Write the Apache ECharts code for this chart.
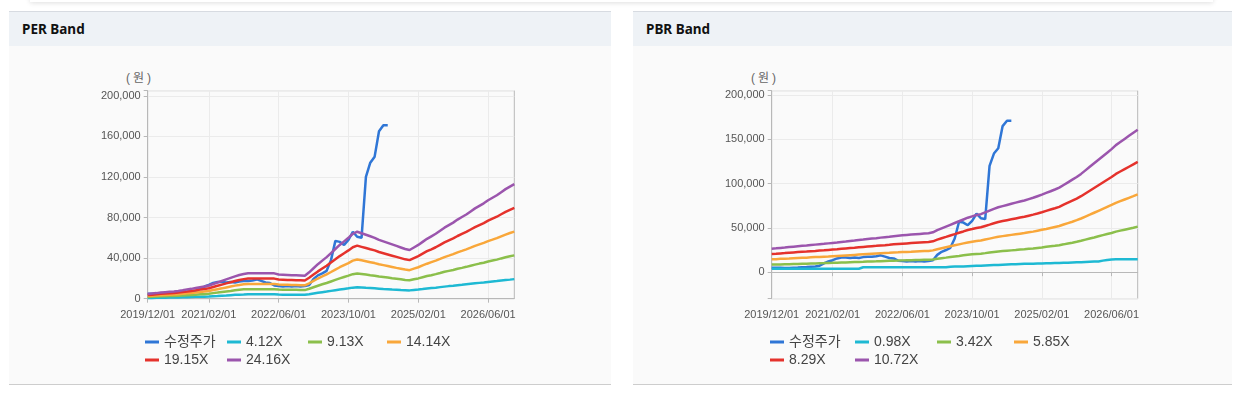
<!DOCTYPE html>
<html>
<head>
<meta charset="utf-8">
<script src="https://cdn.jsdelivr.net/npm/echarts@6/dist/echarts.min.js"></script>
<style>
  html, body { margin: 0; padding: 0; background: #ffffff; }
  body { width: 1243px; height: 394px; position: relative; overflow: hidden; font-family: "Noto Sans", "Noto Sans CJK KR", sans-serif; }
  .topshade { position: absolute; left: 30px; width: 1183px; top: -12px; height: 14px; background: #fff; box-shadow: 0 1px 5px rgba(0,0,0,0.13); }
  .panel { position: absolute; top: 11px; height: 372px; background: #fafafa; border-top: 1px solid #d7dbe1; border-bottom: 1px solid #cdcdcd; }
  .panel .hd { height: 34px; line-height: 34px; background: #eef2f6; padding-left: 13px; font-weight: bold; font-size: 13.5px; color: #111; }
  .unit { position: absolute; top: 68px; font-family: "Liberation Sans", "Noto Sans CJK KR", sans-serif; font-size: 12px; color: #666; letter-spacing: 3px; }
  #chart { position: absolute; left: 0; top: 0; width: 1243px; height: 394px; }
</style>
</head>
<body>
<div class="topshade"></div>
<div class="panel" style="left:9px; width:602px;"><div class="hd">PER Band</div></div>
<div class="panel" style="left:633px; width:599px;"><div class="hd">PBR Band</div></div>
<div class="unit" style="left:126px;">(원)</div>
<div class="unit" style="left:751px;">(원)</div>
<div id="chart"></div>
<script>
// ---- categories & tick labels ----
const categories = [];
for (let i = 0; i <= 84; i++) {
  const t = 2019 * 12 + 11 + i;
  const y = Math.floor(t / 12), m = (t % 12) + 1;
  categories.push(y + '/' + String(m).padStart(2, '0') + '/01');
}
const xTickLabels = ['2019/12/01', '2021/02/01', '2022/06/01', '2023/10/01', '2025/02/01', '2026/06/01'];

// ---- 수정주가 (adjusted price), monthly from 2019/12 ----
const adjPrice = [5000,5000,5000,4800,4700,5000,5200,5600,5800,6200,6500,7300,
  10000,12000,13500,15500,16500,16500,16000,16500,16000,17000,17500,17500,
  18000,19000,17500,16000,15500,13000,12500,12000,12500,12000,12500,12000,
  12500,13500,19500,23000,25000,27500,38000,57000,56000,53000,58000,66000,
  61000,60000,120000,134000,140000,165000,171000,171000];

// ---- PER band ----
const perNames = ['4.12X', '9.13X', '14.14X', '19.15X', '24.16X'];
const per412 = [700,800,900,900,1000,1100,1200,1300,1400,1500,1700,1800,
  1900,2000,2200,2500,2700,3000,3200,3500,3800,4000,4100,4300,
  4300,4300,4300,4300,4300,4300,4100,4000,4000,4000,3900,3900,
  3900,4400,5100,5800,6400,7000,7700,8400,9000,9600,10200,10900,
  11300,11000,10700,10500,10200,9900,9600,9400,9100,8900,8600,8400,
  8200,8600,9000,9500,10100,10500,10900,11400,11900,12400,12800,13300,
  13700,14200,14700,15200,15600,16000,16500,17000,17400,17900,18400,18800,
  19300];
const per913 = [1700,1900,2100,2300,2400,2600,2700,2900,3100,3400,3700,4000,
  4300,4500,4900,5500,6000,6600,7200,7700,8300,8800,9200,9400,
  9400,9400,9400,9400,9400,9400,9000,8900,8800,8800,8700,8600,
  8500,9800,11300,12800,14200,15500,17000,18500,20000,21400,22700,24200,
  24900,24400,23800,23200,22700,21900,21400,20800,20200,19700,19100,18500,
  18100,19100,20000,21200,22300,23200,24200,25300,26500,27400,28300,29500,
  30400,31400,32500,33600,34600,35500,36700,37600,38500,39700,40800,41800,
  42700];
const per1414 = [2700,3000,3200,3500,3700,4000,4200,4500,4900,5300,5700,6100,
  6600,7000,7600,8500,9400,10200,11100,12000,12900,13600,14200,14600,
  14600,14600,14600,14600,14600,14600,13900,13800,13700,13600,13500,13300,
  13200,15200,17600,19900,21900,24000,26300,28700,31000,33100,35100,37500,
  38600,37800,36900,36000,35100,33900,33100,32200,31300,30400,29600,28700,
  28100,29600,31000,32800,34500,36000,37500,39200,41000,42400,43900,45700,
  47100,48600,50300,52100,53600,55000,56800,58200,59700,61500,63200,64700,
  66100];
const per1915 = [3600,4000,4400,4800,5100,5400,5700,6100,6600,7100,7700,8300,
  9000,9500,10300,11500,12700,13900,15100,16200,17400,18500,19300,19800,
  19800,19800,19800,19800,19800,19800,18900,18700,18500,18400,18200,18100,
  17900,20600,23800,26900,29700,32500,35700,38800,42000,44800,47600,50700,
  52300,51100,49900,48700,47600,46000,44800,43600,42400,41200,40000,38800,
  38000,40000,42000,44400,46800,48700,50700,53100,55500,57500,59400,61800,
  63800,65800,68200,70500,72500,74500,76900,78900,80800,83200,85600,87600,
  89600];
const per2416 = [4600,5100,5500,6000,6400,6800,7200,7700,8300,9000,9700,10500,
  11300,12000,13000,14500,16000,17500,19000,20500,22000,23300,24300,25000,
  25000,25000,25000,25000,25000,25000,23800,23600,23400,23200,23000,22800,
  22600,26000,30000,34000,37500,41000,45000,49000,53000,56500,60000,64000,
  66000,64500,63000,61500,60000,58000,56500,55000,53500,52000,50500,49000,
  48000,50500,53000,56000,59000,61500,64000,67000,70000,72500,75000,78000,
  80500,83000,86000,89000,91500,94000,97000,99500,102000,105000,108000,110500,
  113000];

// ---- PBR band ----
const pbrNames = ['0.98X', '3.42X', '5.85X', '8.29X', '10.72X'];
const pbr098 = [3800,3800,3800,3800,3800,3800,3800,3800,3800,3800,3800,3800,
  3800,3800,3800,3800,3800,3800,3800,3800,3800,
  5500,5500,5500,5500,5500,5500,5500,5500,5500,5500,5500,5500,5500,5500,5500,5500,5500,5500,5500,5500,
  6200,6300,6400,6500,6700,6900,7100,7300,7600,7800,8000,8200,8400,8600,8800,
  9000,9200,9400,9500,9600,9700,9800,10000,10100,10300,10400,10600,10700,10900,
  11100,11300,11500,11700,11900,12000,13000,13800,14400,14500,14500,14600,14600,14700,14700];
const pbr342 = [8500,8600,8700,8900,9000,9200,9300,9500,9600,9800,9900,10100,
  10200,10400,10500,10700,10900,11000,11200,11400,11600,11700,11900,12100,
  12200,12400,12600,12800,13000,13100,13300,13400,13500,13700,13800,13900,
  14000,14400,15200,15800,16400,17100,17700,18300,19000,19600,20100,20600,
  20900,21500,22200,22800,23400,23800,24200,24600,25000,25500,25800,26300,
  26800,27400,27900,28600,29200,29800,30500,31400,32400,33300,34300,35400,
  36700,38000,39200,40500,41800,43100,44300,45800,46900,48000,49100,50200,
  51400];
const pbr585 = [14500,14700,15000,15200,15400,15700,16000,16200,16400,16700,17000,17200,
  17500,17700,18000,18300,18600,18900,19200,19500,19800,20100,20400,20700,
  21000,21300,21600,21800,22200,22400,22700,22900,23100,23400,23600,23800,
  24000,24600,25900,27000,28100,29200,30300,31400,32500,33600,34400,35200,
  35700,36800,37900,39000,40000,40700,41400,42100,42800,43500,44200,45000,
  45800,46800,47800,48800,49900,51000,52100,53800,55400,57000,58700,60600,
  62800,64900,67100,69300,71500,73700,75900,78300,80200,82100,84000,85900,
  87900];
const pbr829 = [20500,20800,21200,21500,21900,22300,22700,23000,23300,23700,24000,24400,
  24700,25100,25500,25900,26400,26800,27200,27600,28100,28500,28900,29300,
  29700,30200,30500,30900,31400,31800,32200,32500,32800,33100,33400,33700,
  34000,34800,36700,38300,39800,41400,42900,44500,46000,47600,48700,49900,
  50700,52200,53700,55300,56700,57700,58700,59700,60700,61700,62600,63800,
  65000,66300,67700,69200,70700,72200,73800,76200,78500,80800,83100,85800,
  88900,92000,95100,98200,101300,104400,107500,111000,113700,116400,119100,121800,
  124500];
const pbr1072 = [26500,26900,27400,27800,28300,28800,29300,29700,30100,30600,31100,31600,
  32000,32500,33000,33500,34100,34600,35200,35700,36300,36800,37400,37900,
  38400,39000,39500,40000,40600,41100,41600,42000,42400,42800,43200,43600,
  44000,45000,47500,49500,51500,53500,55500,57500,59500,61500,63000,64500,
  65500,67500,69500,71500,73300,74600,75900,77200,78500,79800,81000,82500,
  84000,85800,87600,89500,91400,93400,95500,98500,101500,104500,107500,111000,
  115000,119000,123000,127000,131000,135000,139000,143500,147000,150500,154000,157500,
  161000];

const priceName = '수정주가';
const colors = ['#2f76d6', '#1eb9d3', '#8bbf4b', '#f9a73a', '#e5322c', '#9b55ad'];

const FONT = '"Liberation Sans", Arial, "Noto Sans CJK KR", sans-serif';
const showTick = (idx, val) => xTickLabels.indexOf(val) >= 0;

function xAxisFor(gi) {
  return {
    type: 'category', gridIndex: gi, data: categories, boundaryGap: false,
    axisLine: { show: true, lineStyle: { color: '#b8b8b8', width: 1 } },
    axisTick: { show: true, interval: showTick, length: 4, lineStyle: { color: '#b8b8b8' } },
    axisLabel: { interval: showTick, color: '#555', fontSize: 11, fontFamily: FONT, margin: 11 },
    splitLine: { show: true, interval: showTick, lineStyle: { color: '#ebebeb', width: 1 } }
  };
}
function yAxisFor(gi, extra, step) {
  return Object.assign({
    type: 'value', gridIndex: gi,
    axisLine: { show: true, lineStyle: { color: '#b8b8b8', width: 1 } },
    axisTick: { show: true, length: 4, lineStyle: { color: '#b8b8b8' } },
    axisLabel: {
      color: '#555', fontSize: 11, fontFamily: FONT, margin: 7,
      formatter: v => (v >= 0 && v <= 200000 && Math.abs(v % step) < 1e-6) ? Math.round(v).toLocaleString('en-US') : ''
    },
    splitLine: { show: true, lineStyle: { color: '#ebebeb', width: 1 } }
  }, extra);
}
function lineSeries(name, data, color, gi) {
  return {
    type: 'line', name: name, data: data, xAxisIndex: gi, yAxisIndex: gi,
    symbol: 'none', smooth: false, color: color,
    lineStyle: { width: 2.5, color: color }, emphasis: { disabled: true }
  };
}

const series = [
  lineSeries(priceName, adjPrice, colors[0], 0),
  lineSeries(perNames[0], per412, colors[1], 0),
  lineSeries(perNames[1], per913, colors[2], 0),
  lineSeries(perNames[2], per1414, colors[3], 0),
  lineSeries(perNames[3], per1915, colors[4], 0),
  lineSeries(perNames[4], per2416, colors[5], 0),
  lineSeries(priceName, adjPrice, colors[0], 1),
  lineSeries(pbrNames[0], pbr098, colors[1], 1),
  lineSeries(pbrNames[1], pbr342, colors[2], 1),
  lineSeries(pbrNames[2], pbr585, colors[3], 1),
  lineSeries(pbrNames[3], pbr829, colors[4], 1),
  lineSeries(pbrNames[4], pbr1072, colors[5], 1)
];

function legendItem(name, left, top) {
  return {
    data: [name], left: left, top: top, padding: 0, itemGap: 0,
    icon: 'rect', itemWidth: 14, itemHeight: 3, selectedMode: false,
    textStyle: { fontSize: 14, color: '#444', fontFamily: FONT }
  };
}
const row1 = 335, row2 = 353;
const legends = [
  legendItem(priceName, 145, row1), legendItem(perNames[0], 227, row1),
  legendItem(perNames[1], 308, row1), legendItem(perNames[2], 387, row1),
  legendItem(perNames[3], 145, row2), legendItem(perNames[4], 227, row2),
  legendItem(priceName, 770, row1), legendItem(pbrNames[0], 855, row1),
  legendItem(pbrNames[1], 937, row1), legendItem(pbrNames[2], 1014, row1),
  legendItem(pbrNames[3], 770, row2), legendItem(pbrNames[4], 855, row2)
];

const chart = echarts.init(document.getElementById('chart'), null, { renderer: 'canvas' });
chart.setOption({
  animation: false,
  backgroundColor: 'transparent',
  grid: [
    { left: 147.7, top: 90.7, width: 366.6, height: 208, show: true, borderColor: '#b8b8b8', borderWidth: 1, backgroundColor: 'transparent' },
    { left: 771.7, top: 90.7, width: 366, height: 208, show: true, borderColor: '#b8b8b8', borderWidth: 1, backgroundColor: 'transparent' }
  ],
  xAxis: [xAxisFor(0), xAxisFor(1)],
  yAxis: [
    yAxisFor(0, { min: 0, max: 205000, interval: 40000 }, 40000),
    yAxisFor(1, { min: -30000, max: 205000, splitNumber: 5 }, 50000)
  ],
  legend: legends,
  series: series
});
</script>
</body>
</html>
